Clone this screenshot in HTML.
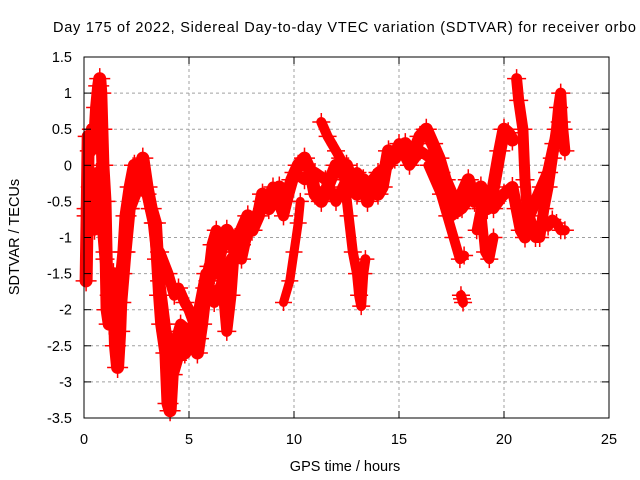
<!DOCTYPE html>
<html><head><meta charset="utf-8"><style>
body{margin:0;background:#fff;}
svg{display:block;font-family:"Liberation Sans",sans-serif;}
</style></head><body>
<svg id="chart" width="640" height="480" viewBox="0 0 640 480">
<text x="53" y="32" font-size="14.5" fill="#000" textLength="583" lengthAdjust="spacing">Day 175 of 2022, Sidereal Day-to-day VTEC variation (SDTVAR) for receiver orbo</text>
<text transform="translate(19,237) rotate(-90)" font-size="14.5" text-anchor="middle">SDTVAR / TECUs</text>
<text x="345" y="471" font-size="14.5" text-anchor="middle">GPS time / hours</text>
<g id="grid"></g><g id="marks"></g>
<rect x="84" y="57" width="525" height="361" fill="none" stroke="#000" stroke-width="1"/>
<g id="ticks"></g>
</svg>
<script>
const xTicks=[0,5,10,15,20,25];
const yTicks=[1.5,1,0.5,0,-0.5,-1,-1.5,-2,-2.5,-3,-3.5];
const trackMainH=[0.1,0.15,0.2,0.3,0.4,0.5,0.6,0.7,0.75,0.8,0.85,0.9,1.0,1.05,1.1,1.2,1.3,1.4,1.5,1.6,1.7,1.8,1.9,2.0,2.2,2.4,2.6,2.8,3.0,3.2,3.4,3.5,3.6,3.7,3.9,4.0,4.1,4.2,4.4,4.6,4.8,5.0,5.2,5.4,5.6,5.8,6.0,6.2,6.5,6.8,7.0,7.2,7.5,7.8,8.0,8.3,8.5,8.8,9.0,9.3,9.6,9.9,10.2,10.5,10.8,11.0,11.3,11.6,12.0,12.2,12.5,12.8,13.0,13.3,13.5,13.8,14.0,14.2,14.5,14.8,15.0,15.3,15.6,16.0,16.3,16.6,16.9,17.2,17.5,17.8,18.0,18.3,18.6,18.9,19.2,19.5,19.8,20.0,20.2,20.4];
const trackMainV=[-1.6,-0.7,0.4,0.2,0.5,0.3,0.8,1.1,1.2,1.0,0.5,0.0,-0.5,-1.2,-2.0,-2.2,-1.6,-1.5,-2.5,-2.8,-2.3,-1.5,-1.2,-0.7,-0.3,0.0,-0.2,0.1,-0.3,-0.6,-0.8,-1.3,-1.8,-2.2,-2.6,-3.3,-3.4,-2.9,-2.7,-2.4,-2.6,-2.5,-2.3,-2.6,-2.2,-1.7,-1.4,-1.5,-1.2,-0.9,-1.0,-1.2,-0.9,-0.7,-0.9,-0.7,-0.4,-0.6,-0.5,-0.3,-0.5,-0.2,0.0,0.1,-0.1,-0.4,-0.5,-0.3,0.0,-0.1,0.0,-0.3,-0.4,-0.2,-0.5,-0.2,-0.4,-0.3,0.2,0.1,0.2,0.3,0.1,0.4,0.5,0.3,0.1,-0.2,-0.4,-0.6,-0.4,-0.2,-0.5,-0.3,-0.6,-0.3,0.2,0.5,0.45,0.35];
const trackBandH=[2.2,2.6,3.0,3.3,3.6,3.9,4.2,4.6,5.0,5.4,5.8,6.2,6.6,7.0,7.5,8.0,8.5,9.0,9.5,10.0,10.5,11.0,11.5,12.0,12.5,13.0,13.5,14.0,14.5,15.0,15.5,16.0,16.5,17.0,17.5,18.0,18.5,19.0,19.5,20.0];
const trackBandV=[-0.6,-0.3,-0.4,-0.8,-1.6,-2.3,-2.6,-2.2,-2.3,-2.1,-1.5,-1.9,-1.6,-1.3,-1.1,-0.8,-0.6,-0.3,-0.7,-0.1,-0.2,-0.1,-0.2,-0.5,-0.2,-0.1,-0.3,-0.1,0.0,0.3,0.0,0.2,0.1,-0.1,-0.7,-0.6,-0.4,-0.4,-0.6,-0.4];
const trackEarlyH=[0.1,0.3,0.5,0.6,0.8,1.0,1.2,1.4,1.6,1.8,2.0,2.2];
const trackEarlyV=[-0.6,-0.3,-0.9,-0.1,-0.6,-1.3,-1.8,-2.1,-1.6,-1.9,-1.2,-0.6];
const trackUpperH=[3.6,4.0,4.3,4.5,4.8,5.0,5.5,5.9,6.1,6.3,6.5,6.8,7.0,7.2,7.5,7.8,8.2,8.5];
const trackUpperV=[-1.2,-1.5,-1.8,-1.7,-1.9,-2.0,-2.4,-1.6,-1.1,-0.9,-1.3,-2.3,-1.8,-1.0,-1.3,-0.9,-0.7,-0.5];
const trackBranch1H=[9.5,9.8,10.0,10.2,10.3];
const trackBranch1V=[-1.9,-1.6,-1.2,-0.8,-0.5];
const trackBranch2H=[11.3,11.6,12.0,12.2,12.4,12.6,12.8,13.0,13.1,13.2,13.3,13.4];
const trackBranch2V=[0.6,0.4,0.2,0.1,-0.2,-0.7,-1.2,-1.5,-1.8,-1.95,-1.5,-1.3];
const trackBranch3H=[16.4,17.0,17.3,17.6,17.9,18.1];
const trackBranch3V=[0.0,-0.4,-0.7,-1.0,-1.3,-1.25];
const trackBranch4H=[18.7,18.9,19.1,19.3,19.5];
const trackBranch4V=[-0.9,-0.6,-1.2,-1.3,-1.0];
const trackBlobH=[17.95,18.0,18.05];
const trackBlobV=[-1.8,-1.85,-1.9];
const trackLateH=[20.6,20.7,20.9,21.0,21.1,21.3,21.5,21.7,21.9,22.1,22.3,22.5,22.6,22.7,22.8,22.9];
const trackLateV=[1.2,0.9,0.5,-0.2,-0.6,-0.8,-1.0,-1.0,-0.6,-0.3,0.1,0.5,0.8,1.0,0.5,0.2];
const trackLate2H=[19.6,20.0,20.4,20.6,20.8,21.0,21.2,21.5,21.8,22.1,22.4,22.7];
const trackLate2V=[-0.5,-0.4,-0.3,-0.6,-0.9,-1.0,-0.7,-0.5,-0.3,-0.1,0.3,0.6];
const trackLowH=[22.1,22.3,22.5,22.7,22.9];
const trackLowV=[-0.85,-0.75,-0.8,-0.9,-0.9];

const X=h=>84+h*21, Y=v=>57+(1.5-v)*72.2;
const NS='http://www.w3.org/2000/svg';
const grid=document.getElementById('grid'),ticks=document.getElementById('ticks'),marks=document.getElementById('marks');
function mk(t,a,p){const e=document.createElementNS(NS,t);for(const k in a)e.setAttribute(k,a[k]);p.appendChild(e);return e;}
xTicks.forEach(t=>{
 if(t>0&&t<25){const g=mk('line',{x1:X(t),x2:X(t),y1:57,y2:418,stroke:'#a0a0a0','stroke-dasharray':'3,3'},grid);
 
 }
 const l=mk('line',{x1:X(t),x2:X(t),y1:418,y2:411,stroke:'#000'},ticks);
 
 
 const l2=mk('line',{x1:X(t),x2:X(t),y1:57,y2:64,stroke:'#000'},ticks);
 
 
 const tx=mk('text',{x:X(t),y:444,'font-size':14.5,'text-anchor':'middle'},ticks);tx.textContent=t;
 
 
});
yTicks.forEach(t=>{
 if(t<1.5&&t>-3.5){const g=mk('line',{x1:84,x2:609,y1:Y(t),y2:Y(t),stroke:'#a0a0a0','stroke-dasharray':'3,3'},grid);
 
 }
 const l=mk('line',{x1:84,x2:91,y1:Y(t),y2:Y(t),stroke:'#000'},ticks);
 
 
 const l2=mk('line',{x1:602,x2:609,y1:Y(t),y2:Y(t),stroke:'#000'},ticks);
 
 
 const tx=mk('text',{x:72,y:Y(t)+5,'font-size':14.5,'text-anchor':'end'},ticks);tx.textContent=t;
 
 
});
const tracks=[[trackMainH,trackMainV,13],[trackBandH,trackBandV,11],[trackEarlyH,trackEarlyV,11],[trackUpperH,trackUpperV,11],[trackBranch1H,trackBranch1V,9],[trackBranch2H,trackBranch2V,10],[trackBranch3H,trackBranch3V,10],[trackBranch4H,trackBranch4V,10],[trackBlobH,trackBlobV,10],[trackLateH,trackLateV,11],[trackLate2H,trackLate2V,12],[trackLowH,trackLowV,10]];
tracks.forEach(([H,V,w])=>{
 const pts=H.map((h,i)=>X(h)+','+Y(V[i])).join(' ');
 const pl=mk('polyline',{points:pts,fill:'none',stroke:'#ff0000','stroke-width':w,'stroke-linejoin':'round','stroke-linecap':'round'},marks);
 
 
 H.forEach((h,i)=>{
  const x=X(h),y=Y(V[i]);
  const p=mk('path',{d:`M${x-w/2-4},${y}H${x+w/2+4}M${x},${y-w/2-4}V${y+w/2+4}`,stroke:'#ff0000','stroke-width':1.5},marks);
  
  
 });
});
</script>
</body></html>
